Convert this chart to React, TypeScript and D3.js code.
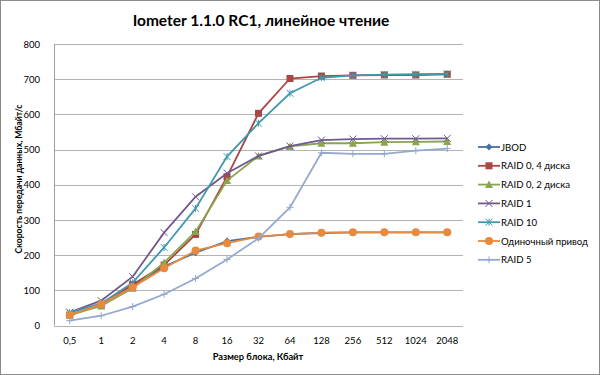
import React from "react";
import * as d3 from "d3";

const categories = ["0,5", "1", "2", "4", "8", "16", "32", "64", "128", "256", "512", "1024", "2048"];
const yTicks = [0, 100, 200, 300, 400, 500, 600, 700, 800];

const jbod = [30, 60, 113, 168, 207, 240, 252, 260, 263, 265, 265, 265, 265];
const raid0x4 = [30, 60, 117, 172, 259, 423, 603, 702, 709, 711, 712, 712, 714];
const raid0x2 = [30, 56, 106, 179, 267, 412, 482, 509, 518, 518, 521, 522, 523];
const raid1 = [38, 71, 139, 264, 366, 433, 482, 510, 527, 530, 531, 531, 532];
const raid10 = [37, 63, 122, 222, 333, 480, 575, 660, 704, 711, 713, 714, 715];
const single = [30, 61, 109, 163, 213, 234, 253, 260, 264, 265, 265, 265, 265];
const raid5 = [14, 28, 54, 89, 134, 188, 248, 336, 491, 488, 488, 497, 503];

const seriesNames = ["JBOD", "RAID 0, 4 диска", "RAID 0, 2 диска", "RAID 1", "RAID 10", "Одиночный привод", "RAID 5"];
const seriesColors = ["#4572A7", "#AA4643", "#89A54E", "#71588F", "#4198AF", "#E8893E", "#93A9CF"];
const seriesMarkers = ["diamond", "square", "triangle", "x", "star", "circle", "plus"];
const seriesValues = [jbod, raid0x4, raid0x2, raid1, raid10, single, raid5];

const W = 600, H = 375;
const PL = 54, PR = 463, PT = 44, PB = 325.6;
const FONT = "Lato, 'Open Sans', sans-serif";

function Marker({ type, x, y, color }: { type: string; x: number; y: number; color: string }) {
  const s = 3.5;
  switch (type) {
    case "diamond":
      return <path d={`M${x},${y - s}L${x + s},${y}L${x},${y + s}L${x - s},${y}Z`} fill={color} />;
    case "square":
      return <rect x={x - s} y={y - s} width={2 * s} height={2 * s} fill={color} />;
    case "triangle":
      return <path d={`M${x},${y - s - 0.5}L${x + s + 0.5},${y + s}L${x - s - 0.5},${y + s}Z`} fill={color} />;
    case "x":
      return <path d={`M${x - s},${y - s}L${x + s},${y + s}M${x - s},${y + s}L${x + s},${y - s}`} stroke={color} strokeWidth={1} />;
    case "star":
      return <path d={`M${x - s},${y - s}L${x + s},${y + s}M${x - s},${y + s}L${x + s},${y - s}M${x},${y - s}L${x},${y + s}`} stroke={color} strokeWidth={1} />;
    case "circle":
      return <circle cx={x} cy={y} r={s + 0.5} fill={color} />;
    case "plus":
      return <path d={`M${x - s},${y}L${x + s},${y}M${x},${y - s}L${x},${y + s}`} stroke={color} strokeWidth={1} />;
  }
  return null;
}

export default function App() {
  const x = d3.scaleBand<string>().domain(categories).range([PL, PR]);
  const y = d3.scaleLinear().domain([0, 800]).range([PB, PT]);
  const cx = (c: string) => (x(c) as number) + x.bandwidth() / 2;
  const line = d3.line<number>().x((_, i) => cx(categories[i])).y((v) => y(v));

  return (
    <svg width={W} height={H} style={{ position: "absolute", left: 0, top: 0 }} fontFamily={FONT}>
      <rect x={0.5} y={0.5} width={W - 1} height={H - 1} fill="#fff" stroke="#8c8c8c" />
      <text x={261} y={26} textAnchor="middle" fontSize={15.5} fontWeight="bold" fill="#000">Iometer 1.1.0 RC1, линейное чтение</text>
      {yTicks.map((t) => (
        <g key={t}>
          <line x1={PL} x2={PR} y1={Math.round(y(t)) + 0.5} y2={Math.round(y(t)) + 0.5} stroke="#b4b4b4" strokeWidth={1} />
          <text x={40} y={y(t) + 3.5} textAnchor="end" fontSize={9.5} fill="#000">{t}</text>
        </g>
      ))}
      <line x1={PL + 0.5} x2={PL + 0.5} y1={PT} y2={PB} stroke="#a0a0a0" />
      {categories.map((c) => (
        <text key={c} x={cx(c)} y={344} textAnchor="middle" fontSize={9.5} fill="#000">{c}</text>
      ))}
      <text x={258} y={360} textAnchor="middle" fontSize={9.3} fontWeight="bold" fill="#000">Размер блока, Кбайт</text>
      <text transform={`translate(22,179) rotate(-90)`} textAnchor="middle" fontSize={8.6} fontWeight="bold" fill="#000">Скорость передачи данных, Мбайт/с</text>
      {seriesValues.map((vals, si) => (
        <g key={si}>
          <path d={line(vals) as string} fill="none" stroke={seriesColors[si]} strokeWidth={1.8} />
          {vals.map((v, i) => (
            <Marker key={i} type={seriesMarkers[si]} x={cx(categories[i])} y={y(v)} color={seriesColors[si]} />
          ))}
        </g>
      ))}
      {seriesNames.map((n, si) => {
        const ly = 147 + si * 18.8;
        return (
          <g key={n}>
            <line x1={478} x2={500} y1={ly} y2={ly} stroke={seriesColors[si]} strokeWidth={1.8} />
            <Marker type={seriesMarkers[si]} x={489} y={ly} color={seriesColors[si]} />
            <text x={501} y={ly + 3.5} fontSize={9.6} fill="#000">{n}</text>
          </g>
        );
      })}
    </svg>
  );
}
